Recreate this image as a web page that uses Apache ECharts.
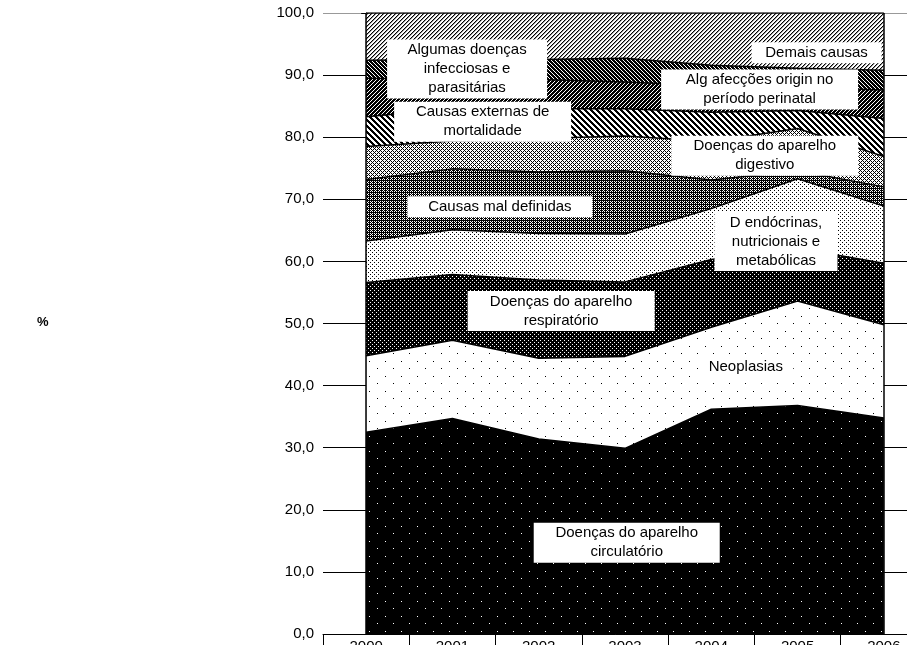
<!DOCTYPE html>
<html>
<head>
<meta charset="utf-8">
<script src="https://cdn.jsdelivr.net/npm/echarts@6/dist/echarts.min.js"></script>
<style>
  html, body { margin: 0; padding: 0; background: #fff; overflow: hidden; }
  #chart { width: 907px; height: 645px; }
</style>
</head>
<body>
<div id="chart"></div>
<script>
// Years on the category axis
const years = ['2000', '2001', '2002', '2003', '2004', '2005', '2006'];
// Tick labels of the percentage axis (decimal comma)
const yTickLabels = ['0,0', '10,0', '20,0', '30,0', '40,0', '50,0', '60,0', '70,0', '80,0', '90,0', '100,0'];

// Share of deaths by cause group (%), listed from the bottom of the stack upward
const circulatorio = [32.5, 34.7, 31.4, 29.9, 36.2, 36.8, 34.8];
const neoplasias   = [12.3, 12.6, 13.0, 14.8, 13.2, 16.8, 15.0];
const respiratorio = [11.8, 10.6, 12.6, 12.0, 10.9, 8.5, 9.9];
const endocrinas   = [6.7, 7.2, 7.5, 7.7, 8.2, 11.2, 9.2];
const malDefinidas = [9.9, 9.8, 9.9, 10.2, 4.6, 1.3, 3.1];
const digestivo    = [5.3, 4.5, 5.4, 5.6, 6.2, 6.8, 4.9];
const externas     = [4.8, 5.2, 4.8, 4.4, 4.7, 2.9, 6.1];
const perinatal    = [6.2, 4.7, 4.7, 4.3, 4.3, 3.7, 4.6];
const infecciosas  = [2.9, 3.2, 3.2, 3.8, 3.3, 3.1, 3.2];
const demais       = [7.6, 7.5, 7.5, 7.3, 8.4, 8.9, 9.2];

// Annotation texts and where they sit (category position, percentage)
const labelTexts = [
  'Algumas doenças\ninfecciosas e\nparasitárias',
  'Causas externas de\nmortalidade',
  'Demais causas',
  'Alg afecções origin no\nperíodo perinatal',
  'Doenças do aparelho\ndigestivo',
  'Causas mal definidas',
  'D endócrinas,\nnutricionais e\nmetabólicas',
  'Doenças do aparelho\nrespiratório',
  'Neoplasias',
  'Doenças do aparelho\ncirculatório'
];
const labelAtX = [1.17, 1.35, 5.22, 4.56, 4.62, 1.55, 4.75, 2.26, 4.40, 3.02];
const labelAtY = [91.0, 82.5, 93.6, 87.7, 77.0, 68.8, 63.2, 52.0, 43.0, 14.7];
const labelBoxW = [160, 177, 130, 197, 187, 185, 123, 187, 95, 186];

// Pixel-tile fills (monochrome hatch / dot textures); inkAt returns a colour or null
function tileFill(w, h, bg, inkAt) {
  const c = document.createElement('canvas');
  c.width = w; c.height = h;
  const ctx = c.getContext('2d');
  ctx.fillStyle = bg;
  ctx.fillRect(0, 0, w, h);
  for (let y = 0; y < h; y++) {
    for (let x = 0; x < w; x++) {
      const ink = inkAt(x, y);
      if (ink) { ctx.fillStyle = ink; ctx.fillRect(x, y, 1, 1); }
    }
  }
  return { image: c, repeat: 'repeat' };
}
const mod = (a, n) => ((a % n) + n) % n;
const when = (cond, colour) => (cond ? colour : null);

const fills = {
  circulatorio: tileFill(16, 15, '#000', (x, y) => when((x === 1 && y === 1) || (x === 9 && y === 8), '#fff')),
  neoplasias:   tileFill(16, 15, '#fff', (x, y) => when((x === 1 && y === 1) || (x === 9 && y === 8), '#000')),
  respiratorio: tileFill(4, 4, '#000', (x, y) => when((x === 0 && y === 0) || (x === 2 && y === 2), '#fff')),
  endocrinas:   tileFill(4, 4, '#fff', (x, y) => when((x === 0 && y === 0) || (x === 2 && y === 2), '#000')),
  malDefinidas: tileFill(4, 4, '#fff', (x, y) => when((x + y) % 2 === 0 || (y % 2 === 0 && x % 2 === 1) && !(x === 3 && y === 2), '#000')),
  digestivo:    tileFill(4, 4, '#fff', (x, y) => when((x + y) % 2 === 0 && !(x === 0 && y === 0) && !(x === 2 && y === 2), '#000')),
  externas:     tileFill(6, 6, '#fff', (x, y) => when(mod(x - y, 6) < 3, '#000')),
  perinatal:    tileFill(4, 4, '#fff', (x, y) => when(mod(x + y, 4) < 3, '#000')),
  infecciosas:  tileFill(4, 4, '#fff', (x, y) => when(mod(x - y, 4) < 3, '#000')),
  demais:       tileFill(4, 4, '#fff', (x, y) => (mod(x + y, 4) === 0 ? '#000' : mod(x + y, 4) === 1 ? '#999' : null))
};

function band(name, data, fill) {
  return {
    name: name,
    type: 'line',
    stack: 'total',
    data: data,
    symbol: 'none',
    silent: true,
    lineStyle: { color: '#000', width: 1.5 },
    areaStyle: { color: fill, opacity: 1 }
  };
}

const series = [
  band('Doenças do aparelho circulatório', circulatorio, fills.circulatorio),
  band('Neoplasias', neoplasias, fills.neoplasias),
  band('Doenças do aparelho respiratório', respiratorio, fills.respiratorio),
  band('D endócrinas, nutricionais e metabólicas', endocrinas, fills.endocrinas),
  band('Causas mal definidas', malDefinidas, fills.malDefinidas),
  band('Doenças do aparelho digestivo', digestivo, fills.digestivo),
  band('Causas externas de mortalidade', externas, fills.externas),
  band('Alg afecções origin no período perinatal', perinatal, fills.perinatal),
  band('Algumas doenças infecciosas e parasitárias', infecciosas, fills.infecciosas),
  band('Demais causas', demais, fills.demais)
];

// Outline of the stacked block's left and right sides
series[series.length - 1].markLine = {
  silent: true,
  symbol: 'none',
  label: { show: false },
  lineStyle: { color: '#000', width: 1.5, type: 'solid', opacity: 1 },
  data: [{ xAxis: years[0] }, { xAxis: years[years.length - 1] }]
};

// Text boxes placed on a hidden value axis that shares the category layout
series.push({
  type: 'scatter',
  xAxisIndex: 1,
  yAxisIndex: 0,
  symbolSize: 1,
  silent: true,
  z: 10,
  itemStyle: { color: 'rgba(0,0,0,0)', opacity: 1 },
  data: labelTexts.map((t, i) => ({
    name: t,
    value: [labelAtX[i], labelAtY[i]],
    label: { width: labelBoxW[i] }
  })),
  label: {
    show: true,
    position: 'inside',
    formatter: p => p.name,
    color: '#000',
    opacity: 1,
    fontSize: 15,
    fontFamily: '"Liberation Sans", Arial, sans-serif',
    lineHeight: 19,
    align: 'center',
    verticalAlign: 'middle',
    backgroundColor: '#fff',
    padding: [1, 0, 1, 0]
  }
});

const gridColors = yTickLabels.map((_, i) => (i === yTickLabels.length - 1 ? '#999' : '#000'));

const chart = echarts.init(document.getElementById('chart'), null, { renderer: 'canvas' });
chart.setOption({
  animation: false,
  backgroundColor: '#fff',
  grid: { left: 323, width: 604, top: 13, bottom: 11, containLabel: false, outerBoundsMode: 'none' },
  xAxis: [
    {
      type: 'category',
      data: years,
      boundaryGap: true,
      axisLine: { lineStyle: { color: '#000', width: 1 } },
      axisTick: { show: true, length: 12, lineStyle: { color: '#000' } },
      axisLabel: { color: '#000', fontSize: 15, margin: 5, fontFamily: '"Liberation Sans", Arial, sans-serif' },
      splitLine: { show: false }
    },
    { type: 'value', min: -0.5, max: 6.5, show: false }
  ],
  yAxis: {
    type: 'value',
    min: 0,
    max: 100,
    interval: 10,
    axisLine: { show: true, lineStyle: { color: '#000', width: 1 } },
    axisTick: { show: true, length: 5, lineStyle: { color: '#000' } },
    axisLabel: {
      color: '#000',
      fontSize: 15,
      margin: 9,
      fontFamily: '"Liberation Sans", Arial, sans-serif',
      formatter: v => yTickLabels[Math.round(v / 10)]
    },
    splitLine: { show: true, lineStyle: { color: gridColors, width: 1 } }
  },
  graphic: [
    {
      type: 'text',
      left: 37,
      top: 316,
      style: { text: '%', fill: '#000', font: 'bold 13px "Liberation Sans", Arial, sans-serif' }
    }
  ],
  series: series
});
</script>
</body>
</html>
